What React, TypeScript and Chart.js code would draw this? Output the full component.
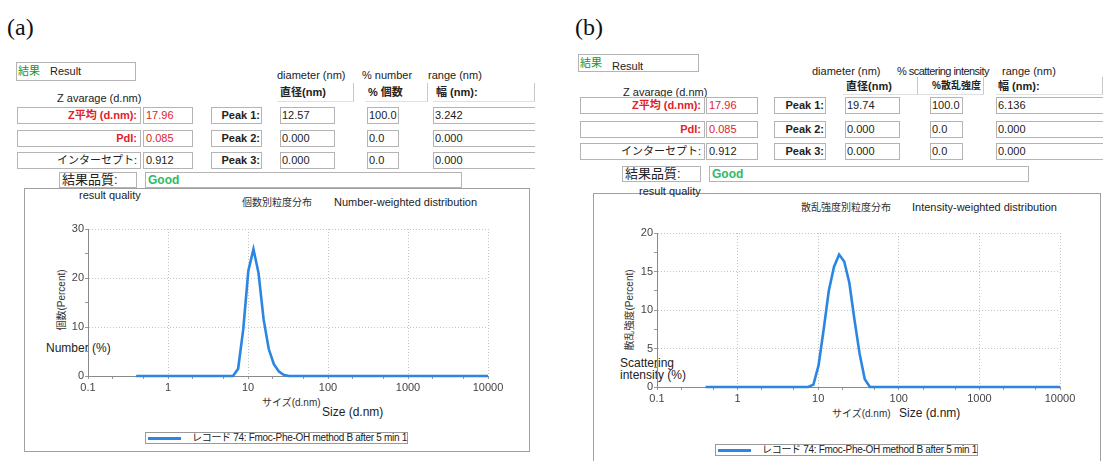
import React, { useEffect, useRef } from "react";
import { Chart, registerables } from "chart.js";
Chart.register(...registerables);

const FONT = "'Liberation Sans', Arial, 'Noto Sans CJK JP', sans-serif";
const SERIF = "'Liberation Serif', 'Times New Roman', serif";

// ---------- data ----------
const sizeTicks = [0.1, 1, 10, 100, 1000, 10000];
const sizeMinorTicks = [0.2, 0.5, 2, 5, 20, 50, 200, 500, 2000, 5000];

const numberSizes = [0.4, 6.5, 7.53, 8.72, 10.1, 11.7, 13.54, 15.69, 18.17, 21.04, 24.36, 28.21, 32.67, 10000];
const numberPercent = [0, 0, 1.5, 9.5, 21.5, 25.9, 21, 11.5, 5.5, 2.4, 0.9, 0.2, 0, 0];

const intensitySizes = [0.4, 7.53, 8.72, 10.1, 11.7, 13.54, 15.69, 18.17, 21.04, 24.36, 28.21, 32.67, 37.84, 43.82, 10000];
const intensityPercent = [0, 0, 0.3, 2.8, 7.5, 12.5, 15.6, 17.2, 16.3, 13.5, 8.7, 4.3, 1.0, 0, 0];

const numberYMajor = [0, 10, 20, 30];
const intensityYMajor = [0, 5, 10, 15, 20];

const rowLabels = ["Z平均 (d.nm):", "PdI:", "インターセプト:"];
const summaryValues = ["17.96", "0.085", "0.912"];
const peakLabels = ["Peak 1:", "Peak 2:", "Peak 3:"];
const numberPeakDiam = ["12.57", "0.000", "0.000"];
const numberPeakPct = ["100.0", "0.0", "0.0"];
const numberPeakRange = ["3.242", "0.000", "0.000"];
const intensityPeakDiam = ["19.74", "0.000", "0.000"];
const intensityPeakPct = ["100.0", "0.0", "0.0"];
const intensityPeakRange = ["6.136", "0.000", "0.000"];
const legendLabel = "レコード 74: Fmoc-Phe-OH method B after 5 min 1";

const LINE = "#2b86e2";
const RED = "#e0222a";
const GREEN = "#1a961a";
const GOOD = "#2dbb62";

type ChartProps = {
  sizes: number[];
  values: number[];
  yMax: number;
  yStep: number;
  yMajor: number[];
  left: number;
  top: number;
  width: number;
  height: number;
  padTop: number;
  padRight: number;
};

function DistChart(p: ChartProps) {
  const ref = useRef<HTMLCanvasElement | null>(null);
  useEffect(() => {
    if (!ref.current) return;
    const allX = [...sizeTicks, ...sizeMinorTicks].sort((a, b) => a - b);
    const chart = new Chart(ref.current, {
      type: "scatter",
      data: {
        datasets: [
          {
            data: p.sizes.map((x, i) => ({ x, y: p.values[i] })),
            showLine: true,
            borderColor: LINE,
            backgroundColor: LINE,
            borderWidth: 2.6,
            pointRadius: 0,
            tension: 0,
            fill: false,
            clip: false as any,
          },
        ],
      },
      options: {
        animation: false,
        responsive: false,
        devicePixelRatio: 1,
        layout: { padding: { top: p.padTop, right: p.padRight, left: 0, bottom: 0 } },
        plugins: { legend: { display: false }, tooltip: { enabled: false } },
        scales: {
          x: {
            type: "logarithmic",
            min: 0.1,
            max: 10000,
            afterBuildTicks: (s: any) => {
              s.ticks = allX.map((v) => ({ value: v }));
            },
            afterFit: (s: any) => {
              s.height = 24;
            },
            ticks: {
              autoSkip: false,
              maxRotation: 0,
              minRotation: 0,
              padding: 2,
              color: "#444",
              font: { family: FONT, size: 11 },
              callback: (v: any) => (sizeTicks.includes(Number(v)) ? String(v) : ""),
            },
            grid: {
              color: (ctx: any) =>
                ctx.tick && sizeTicks.includes(ctx.tick.value) ? "#c4c4c4" : "rgba(0,0,0,0)",
              tickColor: "#999",
              tickLength: 3,
              lineWidth: 1,
            },
            border: { color: "#8a8a8a", width: 1, dash: [1, 2] },
          },
          y: {
            type: "linear",
            min: 0,
            max: p.yMax,
            afterFit: (s: any) => {
              s.width = 58;
            },
            ticks: {
              stepSize: p.yStep,
              padding: 1,
              color: "#444",
              font: { family: FONT, size: 11 },
              callback: (v: any) => (p.yMajor.includes(Number(v)) ? String(v) : ""),
            },
            grid: {
              color: (ctx: any) =>
                ctx.tick && p.yMajor.includes(ctx.tick.value) ? "#c4c4c4" : "rgba(0,0,0,0)",
              tickColor: "#999",
              tickLength: 3,
              lineWidth: 1,
            },
            border: { color: "#8a8a8a", width: 1, dash: [1, 2] },
          },
        },
      },
    } as any);
    return () => chart.destroy();
  }, []);
  return (
    <canvas
      ref={ref}
      width={p.width}
      height={p.height}
      style={{ position: "absolute", left: p.left, top: p.top, width: p.width, height: p.height }}
    />
  );
}

const Txt = (props: { x: number; cy: number; size?: number; style?: React.CSSProperties; children: React.ReactNode }) => {
  const size = props.size ?? 11;
  return (
    <div
      style={{
        position: "absolute",
        left: props.x,
        top: props.cy - size * 0.6,
        fontSize: size,
        lineHeight: size * 1.2 + "px",
        whiteSpace: "nowrap",
        color: "#222",
        ...props.style,
      }}
    >
      {props.children}
    </div>
  );
};

const Box = (props: {
  x: number;
  y: number;
  w: number;
  h: number;
  align?: "left" | "right" | "center";
  style?: React.CSSProperties;
  children?: React.ReactNode;
}) => (
  <div
    style={{
      position: "absolute",
      left: props.x,
      top: props.y,
      width: props.w,
      height: props.h,
      boxSizing: "border-box",
      border: "1px solid #b4b4b4",
      lineHeight: props.h - 2 + "px",
      fontSize: 11,
      textAlign: props.align ?? "left",
      padding: "0 3px",
      whiteSpace: "nowrap",
      overflow: "hidden",
      color: "#222",
      ...props.style,
    }}
  >
    {props.children}
  </div>
);

type Layout = {
  tag: string;
  tagX: number;
  result: [number, number, number, number];
  resultTextDy: number;
  headerY: number;
  headers: [string, number, number][];
  zavX: number;
  zavY: number;
  hbox: { y: number; h: number; items: [string, number, number, number, number][] };
  rowTops: number[];
  rowH: number;
  cols: { label: [number, number]; value: [number, number]; peak: [number, number]; diam: [number, number]; pct: [number, number]; range: [number, number] };
  diam: string[];
  pct: string[];
  range: string[];
  quality: [number, number, number, number];
  good: [number, number];
  frame: [number, number, number, number];
  rq: [number, number];
  titleJ: [string, number];
  titleE: [string, number];
  titleY: number;
  yTitle: [string, number, number];
  yLabel: [string[], number, number];
  xJ: [number, number];
  xE: [number, number];
  legend: [number, number, number, number];
};

function Panel({ L }: { L: Layout }) {
  const rowColors = [RED, RED, "#222"];
  const rowBold = [true, true, false];
  return (
    <>
      <div
        style={{
          position: "absolute",
          left: L.tagX,
          top: 12,
          fontFamily: SERIF,
          fontSize: 24,
          lineHeight: "30px",
          color: "#111",
        }}
      >
        {L.tag}
      </div>
      <Box x={L.result[0]} y={L.result[1]} w={L.result[2]} h={L.result[3]} style={{ padding: "0 1px" }}>
        <span style={{ color: GREEN, fontSize: 11 }}>結果</span>
        <span style={{ marginLeft: 10, position: "relative", top: L.resultTextDy }}>Result</span>
      </Box>
      {L.headers.map(([t, x, ls]) => (
        <Txt key={t} x={x} cy={L.headerY} style={{ letterSpacing: ls }}>
          {t}
        </Txt>
      ))}
      <Txt x={L.zavX} cy={L.zavY}>
        Z avarage (d.nm)
      </Txt>
      {L.hbox.items.map(([t, x, w, pl, fs]) => (
        <Box
          key={t}
          x={x}
          y={L.hbox.y}
          w={w}
          h={L.hbox.h}
          style={{
            border: "none",
            borderRight: "1px solid #c8c8c8",
            borderBottom: "1px solid #e0e0e0",
            fontWeight: "bold",
            fontSize: fs,
            lineHeight: L.hbox.h + "px",
            paddingLeft: pl,
            paddingRight: 0,
          }}
        >
          {t}
        </Box>
      ))}
      {L.rowTops.map((y, i) => (
        <React.Fragment key={i}>
          <Box
            x={L.cols.label[0]}
            y={y}
            w={L.cols.label[1]}
            h={L.rowH}
            align="right"
            style={{ color: rowColors[i], fontWeight: rowBold[i] ? "bold" : "normal" }}
          >
            {rowLabels[i]}
          </Box>
          <Box x={L.cols.value[0]} y={y} w={L.cols.value[1]} h={L.rowH} style={{ color: rowColors[i], padding: "0 2px" }}>
            {summaryValues[i]}
          </Box>
          <Box x={L.cols.peak[0]} y={y} w={L.cols.peak[1]} h={L.rowH} align="right" style={{ fontWeight: "bold", padding: "0 1px" }}>
            {peakLabels[i]}
          </Box>
          <Box x={L.cols.diam[0]} y={y} w={L.cols.diam[1]} h={L.rowH} style={{ padding: "0 1px" }}>
            {L.diam[i]}
          </Box>
          <Box x={L.cols.pct[0]} y={y} w={L.cols.pct[1]} h={L.rowH} style={{ padding: "0 1px" }}>
            {L.pct[i]}
          </Box>
          <Box x={L.cols.range[0]} y={y} w={L.cols.range[1]} h={L.rowH} style={{ padding: "0 1px", borderRight: "none" }}>
            {L.range[i]}
          </Box>
        </React.Fragment>
      ))}
      <Box x={L.quality[0]} y={L.quality[1]} w={L.quality[2]} h={L.quality[3]} style={{ fontSize: 13, padding: "0 2px" }}>
        結果品質:
      </Box>
      <Box
        x={L.good[0]}
        y={L.quality[1]}
        w={L.good[1]}
        h={L.quality[3]}
        style={{ color: GOOD, fontWeight: "bold", fontSize: 12, padding: "0 2px" }}
      >
        Good
      </Box>
      <div
        style={{
          position: "absolute",
          left: L.frame[0],
          top: L.frame[1],
          width: L.frame[2],
          height: L.frame[3],
          boxSizing: "border-box",
          border: "1px solid #a0a0a0",
        }}
      />
      <Txt x={L.rq[0]} cy={L.rq[1]}>
        result quality
      </Txt>
      <Txt x={L.titleJ[1]} cy={L.titleY} size={10} style={{ color: "#333" }}>
        {L.titleJ[0]}
      </Txt>
      <Txt x={L.titleE[1]} cy={L.titleY} size={11}>
        {L.titleE[0]}
      </Txt>
      <div
        style={{
          position: "absolute",
          left: L.yTitle[1] - 60,
          top: L.yTitle[2] - 7,
          width: 120,
          height: 14,
          lineHeight: "14px",
          textAlign: "center",
          fontSize: 10,
          color: "#333",
          transform: "rotate(-90deg)",
          whiteSpace: "nowrap",
        }}
      >
        {L.yTitle[0]}
      </div>
      {L.yLabel[0].map((t, i) => (
        <Txt key={t} x={L.yLabel[1]} cy={L.yLabel[2] + i * 12} size={12}>
          {t}
        </Txt>
      ))}
      <Txt x={L.xJ[0]} cy={L.xJ[1]} size={10} style={{ color: "#333" }}>
        サイズ(d.nm)
      </Txt>
      <Txt x={L.xE[0]} cy={L.xE[1]} size={12}>
        Size (d.nm)
      </Txt>
      <div
        style={{
          position: "absolute",
          left: L.legend[0],
          top: L.legend[1],
          width: L.legend[2],
          height: L.legend[3],
          boxSizing: "border-box",
          border: "1px solid #999",
          background: "#fff",
        }}
      >
        <div style={{ position: "absolute", left: 2, top: L.legend[3] / 2 - 2.5, width: 33, height: 3, background: LINE }} />
        <div
          style={{
            position: "absolute",
            left: 46,
            top: 0,
            lineHeight: L.legend[3] - 2 + "px",
            fontSize: 10,
            letterSpacing: -0.3,
            whiteSpace: "nowrap",
            color: "#222",
          }}
        >
          {legendLabel}
        </div>
      </div>
    </>
  );
}

const layoutA: Layout = {
  tag: "(a)",
  tagX: 7,
  result: [16, 62, 120, 19],
  resultTextDy: 0,
  headerY: 76,
  headers: [
    ["diameter (nm)", 277, 0],
    ["% number", 362, 0],
    ["range (nm)", 428, 0],
  ],
  zavX: 57,
  zavY: 99,
  hbox: {
    y: 83,
    h: 19,
    items: [
      ["直径(nm)", 277, 77, 3, 11],
      ["% 個数", 365, 63, 3, 11],
      ["幅 (nm):", 433, 102, 3, 11],
    ],
  },
  rowTops: [107, 130, 152],
  rowH: 17,
  cols: { label: [17, 124], value: [143, 50], peak: [211, 51], diam: [280, 55], pct: [367, 32], range: [433, 102] },
  diam: numberPeakDiam,
  pct: numberPeakPct,
  range: numberPeakRange,
  quality: [59, 172, 78, 16],
  good: [145, 317],
  frame: [24, 188, 506, 264],
  rq: [79, 196],
  titleJ: ["個数別粒度分布", 242],
  titleE: ["Number-weighted distribution", 334],
  titleY: 203,
  yTitle: ["個数(Percent)", 62, 300],
  yLabel: [["Number (%)"], 46, 348],
  xJ: [262, 403],
  xE: [322, 412],
  legend: [145, 432, 263, 12],
};

const layoutB: Layout = {
  tag: "(b)",
  tagX: 575,
  result: [578, 54, 121, 18],
  resultTextDy: 3,
  headerY: 72,
  headers: [
    ["diameter (nm)", 812, 0],
    ["% scattering intensity", 897, -0.55],
    ["range (nm)", 1002, 0],
  ],
  zavX: 623,
  zavY: 93,
  hbox: {
    y: 77,
    h: 18,
    items: [
      ["直径(nm)", 843, 75, 3, 11],
      ["%散乱強度", 918, 66, 14, 10],
      ["幅 (nm):", 996, 107, 2, 11],
    ],
  },
  rowTops: [97, 121, 143],
  rowH: 17,
  cols: { label: [580, 125], value: [706, 52], peak: [774, 52], diam: [845, 55], pct: [930, 33], range: [996, 110] },
  diam: intensityPeakDiam,
  pct: intensityPeakPct,
  range: intensityPeakRange,
  quality: [622, 166, 79, 16],
  good: [709, 320],
  frame: [593, 193, 508, 290],
  rq: [639, 192],
  titleJ: ["散乱強度別粒度分布", 801],
  titleE: ["Intensity-weighted distribution", 912],
  titleY: 208,
  yTitle: ["散乱強度(Percent)", 630, 310],
  yLabel: [["Scattering", "intensity (%)"], 620, 363],
  xJ: [832, 414],
  xE: [899, 413],
  legend: [715, 444, 263, 12],
};

export default function App() {
  return (
    <div
      style={{
        position: "absolute",
        left: 0,
        top: 0,
        width: 1103,
        height: 461,
        overflow: "hidden",
        background: "#fff",
        fontFamily: FONT,
      }}
    >
      <Panel L={layoutA} />
      <Panel L={layoutB} />
      <DistChart
        sizes={numberSizes}
        values={numberPercent}
        yMax={30}
        yStep={5}
        yMajor={numberYMajor}
        left={30}
        top={215}
        width={500}
        height={185}
        padTop={14}
        padRight={42}
      />
      <DistChart
        sizes={intensitySizes}
        values={intensityPercent}
        yMax={20}
        yStep={2.5}
        yMajor={intensityYMajor}
        left={599}
        top={219}
        width={501}
        height={192}
        padTop={14}
        padRight={40}
      />
    </div>
  );
}
